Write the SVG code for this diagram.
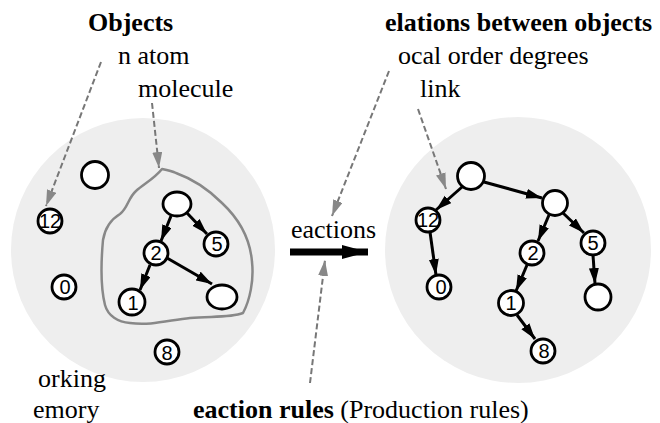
<svg xmlns="http://www.w3.org/2000/svg" width="660" height="423" viewBox="0 0 660 423">
<defs>
<style>
.bg{fill:#eeeeee;stroke:none}
.n{fill:#ffffff;stroke:#000;stroke-width:2.8}
.nl{font-family:"Liberation Sans",Arial,sans-serif;font-size:20px;fill:#000;text-anchor:middle}
.t{font-family:"Liberation Serif","Times New Roman",serif;font-size:26px;fill:#000}
.b{font-weight:bold}
.e{stroke:#000;stroke-width:3;fill:none;marker-end:url(#ah)}
.d{stroke:#777;stroke-width:2;stroke-dasharray:6 3;fill:none;marker-end:url(#gh)}
.mol{fill:none;stroke:#888;stroke-width:2.5;stroke-linejoin:round}
</style>
<marker id="ah" markerUnits="userSpaceOnUse" markerWidth="17" markerHeight="11" refX="16" refY="5" orient="auto">
<path d="M0,0 L16,5 L0,10 z" fill="#000"/>
</marker>
<marker id="gh" markerUnits="userSpaceOnUse" markerWidth="17" markerHeight="11" refX="16" refY="5" orient="auto">
<path d="M0,0 L16,5 L0,10 z" fill="#888"/>
</marker>
<marker id="big" markerUnits="userSpaceOnUse" markerWidth="27" markerHeight="15" refX="26" refY="7" orient="auto">
<path d="M0,0 L26,7 L0,14 z" fill="#000"/>
</marker>
</defs>

<g id="working-memory">
<circle class="bg" cx="143" cy="250" r="132"/>
<path id="molecule-boundary" class="mol" d="M162,169 C167,170 172,171 176,173 C190,178 205,186 222,203 C238,218 250,236 252,262 C254,280 250,300 243,313 C230,318 210,316 190,318 C170,320 150,326 130,323 C118,322 108,316 105,305 C100,285 101,262 103,240 C105,228 110,220 120,214 C128,208 128,198 136,191 C144,184 155,178 162,169 Z"/>
</g>

<g id="relations-space">
<circle class="bg" cx="518" cy="250" r="133"/>
</g>

<g id="connectors">
<line class="e" x1="171" y1="216" x2="161" y2="241"/>
<line class="e" x1="187" y1="213" x2="207" y2="234"/>
<line class="e" x1="150" y1="265" x2="140" y2="290"/>
<line class="e" x1="167" y1="258" x2="212" y2="284"/>
<line class="e" x1="462" y1="187" x2="436" y2="210"/>
<line class="e" x1="484" y1="182" x2="542" y2="198"/>
<line class="e" x1="549" y1="215" x2="538" y2="241"/>
<line class="e" x1="563" y1="213" x2="584" y2="233"/>
<line class="e" x1="430" y1="232" x2="436" y2="275"/>
<line class="e" x1="527" y1="265" x2="516" y2="291"/>
<line class="e" x1="593" y1="255" x2="595" y2="284"/>
<line class="e" x1="517" y1="315" x2="535" y2="339"/>
<line class="d" x1="101" y1="62" x2="46" y2="206"/>
<line class="d" x1="152" y1="103" x2="159" y2="168"/>
<line class="d" x1="389" y1="71" x2="332" y2="216"/>
<line class="d" x1="310" y1="383" x2="325" y2="260"/>
<line class="d" x1="418" y1="109" x2="446" y2="189"/>
<line x1="290" y1="252" x2="368" y2="252" stroke="#000" stroke-width="7" marker-end="url(#big)"/>
</g>

<g id="left-nodes">
<g id="l-empty1"><circle class="n" cx="95" cy="175" r="13.5"/></g>
<g id="l-12"><circle class="n" cx="50" cy="221" r="12"/><text class="nl" x="50" y="228">12</text></g>
<g id="l-0"><circle class="n" cx="64" cy="287" r="12"/><text class="nl" x="65" y="294">0</text></g>
<g id="l-top"><ellipse class="n" cx="177" cy="204" rx="14" ry="12"/></g>
<g id="l-2"><circle class="n" cx="156" cy="253" r="12"/><text class="nl" x="156" y="260">2</text></g>
<g id="l-5"><circle class="n" cx="216" cy="244" r="12"/><text class="nl" x="217" y="251">5</text></g>
<g id="l-1"><circle class="n" cx="132" cy="302" r="13"/><text class="nl" x="133" y="310">1</text></g>
<g id="l-br"><ellipse class="n" cx="222" cy="297" rx="15" ry="12"/></g>
<g id="l-8"><circle class="n" cx="167" cy="352" r="12"/><text class="nl" x="167" y="360">8</text></g>
</g>

<g id="right-nodes">
<g id="r-root"><circle class="n" cx="471" cy="176" r="13.5"/></g>
<g id="r-mid"><circle class="n" cx="555" cy="203" r="12.5"/></g>
<g id="r-12"><circle class="n" cx="428" cy="220" r="12"/><text class="nl" x="428" y="227">12</text></g>
<g id="r-0"><circle class="n" cx="439" cy="287" r="12"/><text class="nl" x="441" y="294">0</text></g>
<g id="r-2"><circle class="n" cx="532" cy="253" r="12"/><text class="nl" x="533" y="260">2</text></g>
<g id="r-5"><circle class="n" cx="593" cy="243" r="12"/><text class="nl" x="593" y="250">5</text></g>
<g id="r-1"><circle class="n" cx="511" cy="303" r="12.5"/><text class="nl" x="511" y="310">1</text></g>
<g id="r-br"><circle class="n" cx="598" cy="297" r="13"/></g>
<g id="r-8"><circle class="n" cx="543" cy="351" r="12"/><text class="nl" x="544" y="358">8</text></g>
</g>

<g id="labels">
<text class="t b" x="88" y="31">Objects</text>
<text class="t" x="118" y="64">n atom</text>
<text class="t" x="138" y="97">molecule</text>
<text class="t b" x="385" y="31">elations between objects</text>
<text class="t" x="398" y="64">ocal order degrees</text>
<text class="t" x="420" y="97">link</text>
<text class="t" x="291" y="238">eactions</text>
<text class="t" x="38" y="387">orking</text>
<text class="t" x="33" y="418">emory</text>
<text class="t" x="193" y="418"><tspan class="b" font-weight="bold">eaction rules</tspan> (Production rules)</text>
</g>
</svg>
